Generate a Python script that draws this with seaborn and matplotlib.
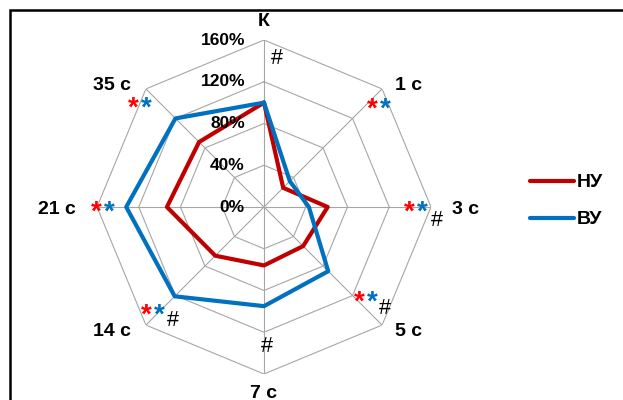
import numpy as np
import pandas as pd
import matplotlib
matplotlib.use("Agg")
import matplotlib.pyplot as plt
import matplotlib.transforms as mtransforms
from matplotlib.lines import Line2D
from matplotlib.patches import Rectangle
import seaborn as sns

# Time points around the radar and the two groups (values in % of baseline)
categories = ["К", "1 с", "3 с", "5 с", "7 с", "14 с", "21 с", "35 с"]
nu_values = [100, 26, 61, 53, 56, 66, 93, 88]
vu_values = [100, 35, 43, 87, 95, 121, 132, 120]
series_names = ["НУ", "ВУ"]
ring_levels = [0, 40, 80, 120, 160]
ring_labels = ["0%", "40%", "80%", "120%", "160%"]

# Significance marks per axis: (red star, blue star, hash)
marks = {
    "К": (False, False, True),
    "1 с": (True, True, False),
    "3 с": (True, True, True),
    "5 с": (True, True, True),
    "7 с": (False, False, True),
    "14 с": (True, True, True),
    "21 с": (True, True, False),
    "35 с": (True, True, False),
}

RED = "#C00000"
BLUE = "#0070C0"
STAR_RED = "#FF0000"
GRID = "#A6A6A6"

sns.set_theme(style="white")
plt.rcParams["font.family"] = ["Liberation Sans", "DejaVu Sans"]

W, H = 623, 400
fig = plt.figure(figsize=(W / 100, H / 100), dpi=100)


def fx(x):
    return x / W


def fy(y):
    return 1 - y / H


# Polar axes: centre at (264, 207) px, outer ring radius 167 px
cx, cy, R = 264, 207, 167
ax = fig.add_axes([fx(cx - R), fy(cy + R), 2 * R / W, 2 * R / H], projection="polar")
ax.set_theta_zero_location("N")
ax.set_theta_direction(-1)
ax.set_ylim(0, 160)
ax.grid(False)
ax.set_xticks([])
ax.set_yticks([])
ax.spines["polar"].set_visible(False)
ax.set_facecolor("none")

n = len(categories)
angles = np.arange(n) * 2 * np.pi / n
closed = np.append(angles, 2 * np.pi)

# Octagonal rings and spokes
for lvl in ring_levels[1:]:
    ax.plot(closed, [lvl] * (n + 1), color=GRID, lw=0.8, zorder=1)
for a in angles:
    ax.plot([a, a], [0, 160], color=GRID, lw=0.8, zorder=1)

# Series drawn through seaborn
rows = []
for name, vals in zip(series_names, [nu_values, vu_values]):
    vals_closed = list(vals) + [vals[0]]
    for t, v in zip(closed, vals_closed):
        rows.append({"theta": t, "value": v, "group": name})
df = pd.DataFrame(rows)
sns.lineplot(data=df, x="theta", y="value", hue="group", palette=[RED, BLUE],
             sort=False, estimator=None, lw=3.0, legend=False, ax=ax, zorder=3)
ax.set_xlabel("")
ax.set_ylabel("")

# Radial tick labels along the top spoke
off = mtransforms.ScaledTranslation(-19 / 100, 0, fig.dpi_scale_trans)
for lvl, lab in zip(ring_levels, ring_labels):
    ax.text(0, lvl, lab, transform=ax.transData + off, ha="right", va="center",
            fontsize=12.5, fontweight="bold", color="black", zorder=4)

# Category labels (pixel positions)
label_pos = {
    "К": (264, 22), "1 с": (409, 85), "3 с": (466, 209), "5 с": (409, 332),
    "7 с": (264, 393), "14 с": (112, 332), "21 с": (57, 209), "35 с": (112, 85),
}
for cat in categories:
    x, y = label_pos[cat]
    fig.text(fx(x), fy(y), cat, ha="center", va="center", fontsize=14,
             fontweight="bold", color="black")

# Star / hash annotation positions (pixel coordinates of red star)
star_pos = {
    "1 с": (372, 104), "3 с": (409, 207), "5 с": (359, 297),
    "14 с": (146, 310), "21 с": (96, 207), "35 с": (133, 103),
}
hash_pos = {
    "К": (277, 59), "3 с": (437, 220), "5 с": (385, 308),
    "7 с": (267, 346), "14 с": (173, 321),
}
for cat in categories:
    r, b, h = marks[cat]
    if r:
        x, y = star_pos[cat]
        fig.text(fx(x), fy(y + 6), "*", ha="center", va="center", fontsize=20,
                 fontweight="bold", color=STAR_RED)
    if b:
        x, y = star_pos[cat]
        fig.text(fx(x + 13), fy(y + 6), "*", ha="center", va="center", fontsize=20,
                 fontweight="bold", color=BLUE)
    if h:
        x, y = hash_pos[cat]
        fig.text(fx(x), fy(y), "#", ha="center", va="center", fontsize=15.5,
                 color="black")

# Legend
for name, col, y in [(series_names[0], RED, 181), (series_names[1], BLUE, 218)]:
    fig.add_artist(Line2D([fx(530), fx(574)], [fy(y), fy(y)], color=col, lw=3.0,
                          solid_capstyle="round"))
    fig.text(fx(577), fy(y + 1), name, ha="left", va="center", fontsize=14,
             fontweight="bold", color="black")

# Outer frame (top and left edges visible)
fig.add_artist(Rectangle((fx(10), fy(430)), fx(660), 420 / H, fill=False,
                         edgecolor="black", lw=1.8, transform=fig.transFigure,
                         clip_on=False))

fig.savefig("out.png", dpi=100, facecolor="white")
